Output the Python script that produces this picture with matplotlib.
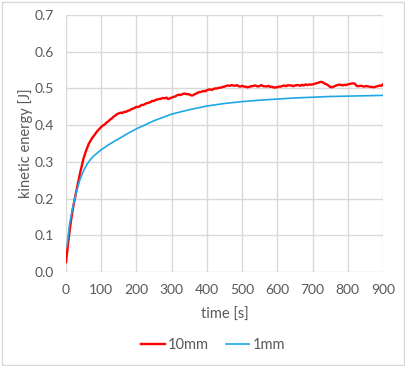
import matplotlib
matplotlib.use("Agg")
import matplotlib.pyplot as plt
from matplotlib.patches import Rectangle

# 10mm run (red), sampled every 5 s
t_10mm = list(range(0, 905, 5))
e_10mm = [
    0.027, 0.070, 0.110, 0.145, 0.175, 0.200, 0.223, 0.245, 0.270, 0.290,   # 0-45
    0.310, 0.325, 0.338, 0.350, 0.358, 0.366, 0.372, 0.379, 0.385, 0.390,   # 50-95
    0.395, 0.399, 0.402, 0.407, 0.410, 0.415, 0.418, 0.423, 0.426, 0.430,   # 100-145
    0.432, 0.434, 0.433, 0.436, 0.436, 0.439, 0.440, 0.443, 0.445, 0.447,   # 150-195
    0.450, 0.449, 0.452, 0.455, 0.455, 0.458, 0.460, 0.461, 0.463, 0.466,   # 200-245
    0.466, 0.469, 0.470, 0.471, 0.472, 0.474, 0.473, 0.475, 0.471, 0.473,   # 250-295
    0.475, 0.477, 0.478, 0.481, 0.483, 0.482, 0.484, 0.486, 0.485, 0.484,   # 300-345
    0.484, 0.481, 0.481, 0.484, 0.486, 0.489, 0.490, 0.491, 0.493, 0.492,   # 350-395
    0.495, 0.497, 0.497, 0.496, 0.499, 0.500, 0.500, 0.502, 0.502, 0.504,   # 400-445
    0.505, 0.507, 0.508, 0.507, 0.509, 0.508, 0.507, 0.509, 0.506, 0.505,   # 450-495
    0.507, 0.505, 0.505, 0.503, 0.504, 0.506, 0.506, 0.508, 0.507, 0.505,   # 500-545
    0.507, 0.509, 0.506, 0.506, 0.505, 0.507, 0.504, 0.505, 0.502, 0.503,   # 550-595
    0.503, 0.505, 0.505, 0.507, 0.508, 0.506, 0.509, 0.508, 0.508, 0.506,   # 600-645
    0.508, 0.509, 0.509, 0.507, 0.510, 0.508, 0.511, 0.509, 0.511, 0.510,   # 650-695
    0.511, 0.512, 0.514, 0.515, 0.517, 0.518, 0.516, 0.513, 0.511, 0.508,   # 700-745
    0.504, 0.503, 0.505, 0.507, 0.509, 0.510, 0.510, 0.508, 0.510, 0.509,   # 750-795
    0.511, 0.512, 0.513, 0.514, 0.513, 0.507, 0.506, 0.507, 0.507, 0.505,   # 800-845
    0.506, 0.506, 0.505, 0.504, 0.504, 0.503, 0.505, 0.506, 0.508, 0.507,   # 850-895
    0.511,                                                                  # 900
]

# 1mm run (blue)
t_1mm = [3, 10, 20, 30, 40, 50, 60, 70, 80, 90, 100, 125, 150, 175, 200, 250, 300, 350,
         400, 450, 500, 550, 600, 650, 700, 750, 800, 850, 900]
e_1mm = [0.070, 0.130, 0.180, 0.220, 0.253, 0.276, 0.294, 0.307, 0.317, 0.325, 0.333,
         0.349, 0.363, 0.377, 0.390, 0.412, 0.430, 0.442, 0.452, 0.459, 0.464, 0.468,
         0.471, 0.474, 0.476, 0.478, 0.479, 0.480, 0.481]

x_ticks = [0, 100, 200, 300, 400, 500, 600, 700, 800, 900]
y_ticks = [0.0, 0.1, 0.2, 0.3, 0.4, 0.5, 0.6, 0.7]

grey = '#595959'
plt.rcParams['font.family'] = ['Lato', 'DejaVu Sans']

fig = plt.figure(figsize=(4.06, 3.66), dpi=100)
ax = fig.add_axes([0.1626, 0.257, 0.7807, 0.702])

ax.plot(t_10mm, e_10mm, color='#ff0000', lw=1.7, label='10mm', zorder=3)
ax.plot(t_1mm, e_1mm, color='#1ea7e6', lw=1.2, label='1mm', zorder=3)

ax.set_xlim(0, 900)
ax.set_ylim(0, 0.7)
ax.set_xticks(x_ticks)
ax.set_yticks(y_ticks)
ax.set_yticklabels([f'{v:.1f}' for v in y_ticks])
ax.tick_params(length=0, labelsize=10, labelcolor=grey, pad=9)
ax.grid(True, color='#d9d9d9', lw=1)
ax.set_axisbelow(True)
for s in ax.spines.values():
    s.set_visible(False)

ax.set_xlabel('time [s]', fontsize=10.5, color=grey, labelpad=8)
ax.set_ylabel('kinetic energy [J]', fontsize=10.5, color=grey, labelpad=1)

leg = fig.legend(loc='center', bbox_to_anchor=(0.525, 0.057), ncol=2, frameon=False,
                 fontsize=10.5, handlelength=1.6, handletextpad=0.2, columnspacing=1.2)
for txt in leg.get_texts():
    txt.set_color(grey)

fig.patches.append(Rectangle((0.004, 0.004), 0.992, 0.991, transform=fig.transFigure,
                             fill=False, edgecolor='#d9d9d9', lw=1))

fig.savefig('out.png', dpi=100)
